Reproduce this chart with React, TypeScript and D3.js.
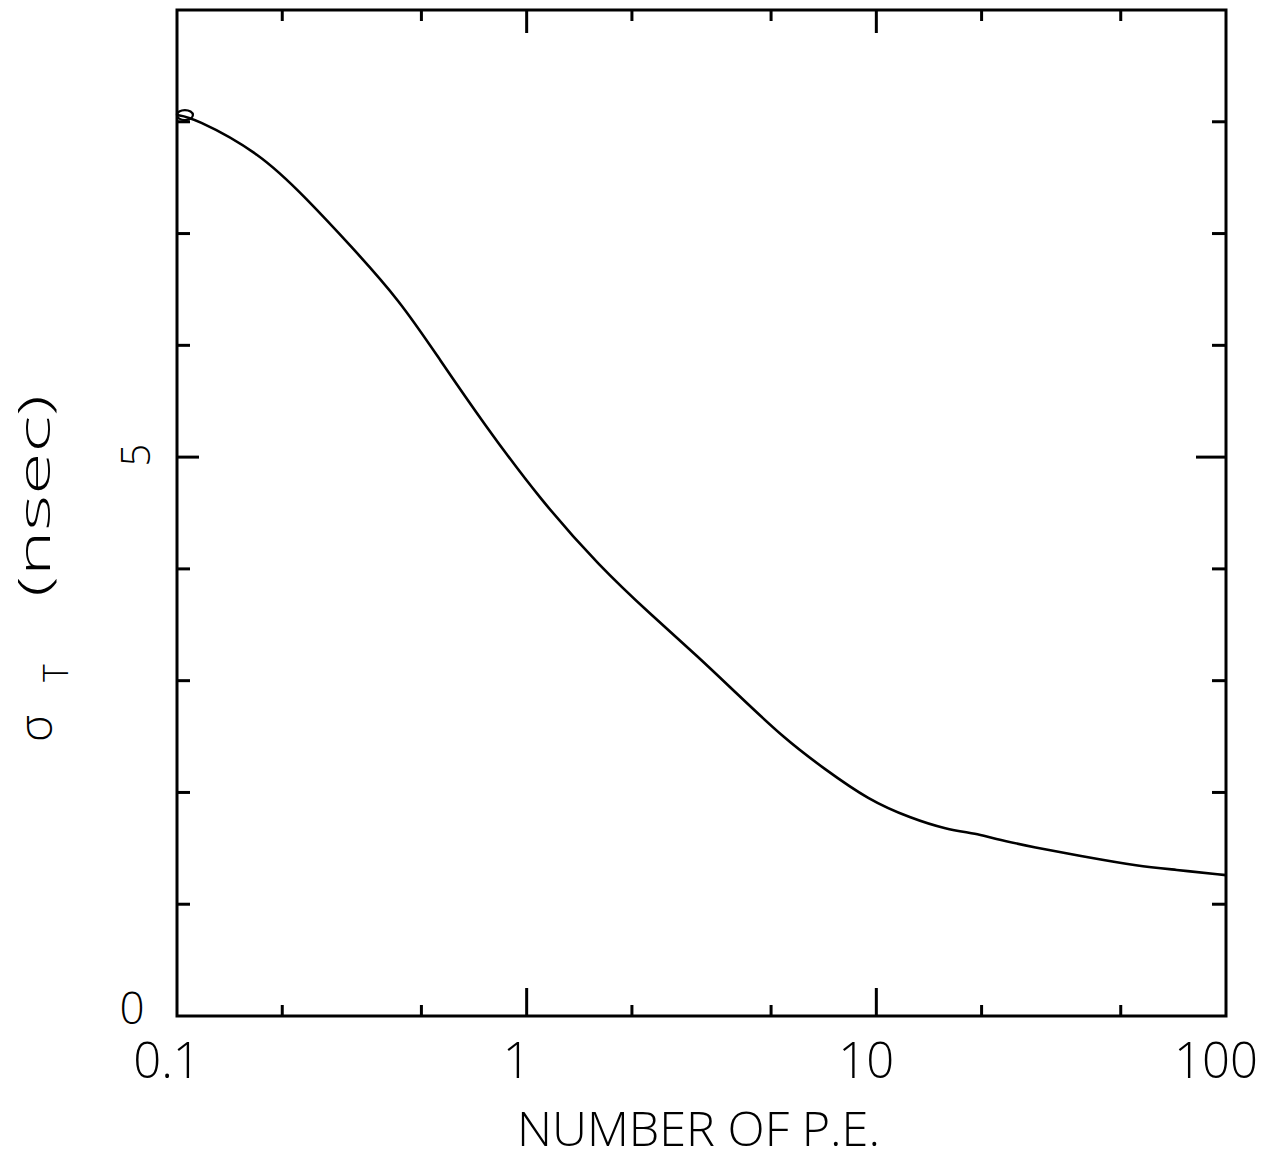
import { useEffect, useRef } from "react";
import * as d3 from "d3";

// curve: number of photoelectrons vs timing resolution (ns)
const NPE = [
  0.1, 0.111, 0.173, 0.235, 0.312, 0.434, 0.565, 0.75, 1.092, 1.62, 2.25, 3.13,
  3.94, 5.51, 7.04, 9.52, 12.56, 15.8, 19.5, 21.4, 28.2, 40.0, 56.3, 71.0, 100,
];
const SIGMA_T = [
  8.06, 8.04, 7.72, 7.31, 6.9, 6.4, 5.87, 5.31, 4.62, 4.02, 3.6, 3.2, 2.9, 2.47,
  2.22, 1.93, 1.77, 1.67, 1.63, 1.59, 1.51, 1.42, 1.34, 1.31, 1.26,
];

const X_MAJOR = [1, 10];
const X_MINOR = [0.2, 0.5, 2, 5, 20, 50];
const X_LABELS = [0.1, 1, 10, 100];
const Y_TICKS = [1, 2, 3, 4, 5, 6, 7, 8];
const Y_MAJOR = 5;

const W = 1287;
const H = 1159;
const margin = { top: 10, right: 61, bottom: 143, left: 177 };
const FONT = "'Open Sans', 'DejaVu Sans', sans-serif";

export default function App() {
  const svgRef = useRef<SVGSVGElement>(null);

  useEffect(() => {
    if (!svgRef.current) return;
    const svg = d3.select(svgRef.current);
    svg.selectAll("*").remove();

    const x0 = margin.left;
    const x1 = W - margin.right;
    const y0 = H - margin.bottom;
    const y1 = margin.top;

    const x = d3.scaleLog().domain([0.1, 100]).range([x0, x1]);
    const y = d3.scaleLinear().domain([0, 9]).range([y0, y1]);

    const g = svg.append("g");

    // frame
    g.append("rect")
      .attr("x", x0)
      .attr("y", y1)
      .attr("width", x1 - x0)
      .attr("height", y0 - y1)
      .attr("fill", "none")
      .attr("stroke", "#000")
      .attr("stroke-width", 3);

    const tick = (
      data: number[],
      pos: (d: number) => [number, number, number, number],
      w = 3
    ) => {
      g.append("g")
        .selectAll("line")
        .data(data)
        .enter()
        .append("line")
        .attr("x1", (d) => pos(d)[0])
        .attr("y1", (d) => pos(d)[1])
        .attr("x2", (d) => pos(d)[2])
        .attr("y2", (d) => pos(d)[3])
        .attr("stroke", "#000")
        .attr("stroke-width", w);
    };

    // x ticks, bottom and top
    tick(X_MINOR, (d) => [x(d), y0, x(d), y0 - 11]);
    tick(X_MAJOR, (d) => [x(d), y0, x(d), y0 - 28]);
    tick(X_MINOR, (d) => [x(d), y1, x(d), y1 + 11]);
    tick(X_MAJOR, (d) => [x(d), y1, x(d), y1 + 23]);

    // y ticks, left and right
    const len = (d: number, a: number, b: number) => (d === Y_MAJOR ? b : a);
    tick(Y_TICKS, (d) => [x0, y(d), x0 + len(d, 13, 22), y(d)]);
    tick(Y_TICKS, (d) => [x1, y(d), x1 - len(d, 14, 30), y(d)]);

    // x labels
    g.append("g")
      .selectAll("text")
      .data(X_LABELS)
      .enter()
      .append("text")
      .attr("x", (d) => x(d) - 10)
      .attr("y", y0 + 62)
      .attr("text-anchor", "middle")
      .attr("fill", "#000")
      .style("font-family", FONT)
      .style("font-weight", 300)
      .style("font-size", "49px")
      .text((d) => String(d));

    // y labels
    g.append("text")
      .attr("x", 132)
      .attr("y", y(0) + 8)
      .attr("text-anchor", "middle")
      .attr("fill", "#000")
      .style("font-family", FONT)
      .style("font-weight", 300)
      .style("font-size", "44px")
      .text("0");
    g.append("text")
      .attr("transform", `translate(150,${y(5) - 2}) rotate(-90)`)
      .attr("text-anchor", "middle")
      .attr("fill", "#000")
      .style("font-family", FONT)
      .style("font-weight", 300)
      .style("font-size", "40px")
      .text("5");

    // x title
    g.append("text")
      .attr("x", 517)
      .attr("y", 1146)
      .attr("textLength", 363)
      .attr("lengthAdjust", "spacingAndGlyphs")
      .attr("fill", "#000")
      .style("font-family", FONT)
      .style("font-weight", 300)
      .style("font-size", "48px")
      .text("NUMBER OF P.E.");

    // y title
    const yt = g
      .append("text")
      .attr("transform", `translate(50,742) rotate(-90)`)
      .attr("fill", "#000")
      .style("font-family", FONT)
      .style("font-weight", 300)
      .style("font-size", "44px");
    yt.append("tspan")
      .attr("x", 0)
      .attr("y", 2)
      .style("font-size", "46px")
      .text("σ");
    yt.append("tspan")
      .attr("x", 60)
      .attr("y", 18)
      .style("font-size", "34px")
      .text("T");
    yt.append("tspan")
      .attr("x", 145)
      .attr("y", 0)
      .attr("textLength", 202)
      .attr("lengthAdjust", "spacingAndGlyphs")
      .text("(nsec)");

    // curve
    const pts = NPE.map((n, i) => [n, SIGMA_T[i]] as [number, number]);
    const line = d3
      .line<[number, number]>()
      .x((d) => x(d[0]))
      .y((d) => y(d[1]))
      .curve(d3.curveBasis);
    g.append("path")
      .datum(pts)
      .attr("d", line)
      .attr("fill", "none")
      .attr("stroke", "#000")
      .attr("stroke-width", 2.6);

    // little pen loop at the start of the curve
    g.append("ellipse")
      .attr("cx", (x(NPE[0]) + x(NPE[1])) / 2)
      .attr("cy", y(SIGMA_T[0]))
      .attr("rx", 8)
      .attr("ry", 5)
      .attr("fill", "none")
      .attr("stroke", "#000")
      .attr("stroke-width", 2.2);
  }, []);

  return (
    <div style={{ position: "absolute", left: 0, top: 0, background: "#fff" }}>
      <svg ref={svgRef} width={W} height={H} style={{ display: "block" }} />
    </div>
  );
}
